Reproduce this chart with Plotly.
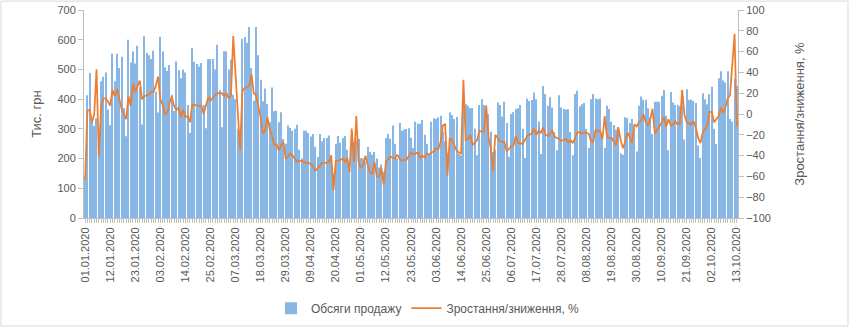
import pandas as pd
import plotly.graph_objects as go

# Categories: daily dates 01.01.2020 - 13.10.2020
dates = [d.strftime("%d.%m.%Y") for d in pd.date_range("2020-01-01", "2020-10-13", freq="D")]
label_every = 11
tick_labels = [d if i % label_every == 0 else "" for i, d in enumerate(dates)]

# Sales volume, thousand UAH (one row per week Mon..Sun)
sales = [
    140, 413, 488, 330, 310,
    335, 230, 460, 475, 490, 365, 312,
    553, 460, 553, 505, 543, 370, 275,
    600, 523, 560, 520, 580, 440, 315,
    612, 555, 548, 535, 563, 425, 355,
    610, 560, 507, 495, 515, 415, 360,
    527, 497, 470, 500, 490, 380, 287,
    572, 526, 518, 510, 522, 380, 302,
    535, 535, 535, 500, 583, 430, 305,
    561, 561, 500, 533, 415, 400, 300,
    230, 603, 609, 590, 643, 505, 395,
    643, 548, 465, 393, 436, 383, 322,
    439, 359, 361, 322, 356, 266, 250,
    311, 303, 294, 300, 314, 230, 200,
    294, 294, 286, 274, 283, 240, 205,
    283, 258, 269, 269, 278, 211, 150,
    250, 276, 253, 269, 276, 230, 191,
    289, 256, 261, 267, 202, 200, 190,
    239, 222, 214, 222, 200, 170, 180,
    156, 269, 283, 267, 311, 250, 200,
    320, 294, 298, 300, 302, 270, 236,
    324, 317, 317, 330, 280, 250, 213,
    324, 336, 333, 339, 344, 290, 258,
    220, 356, 347, 333, 340, 215, 211,
    394, 383, 378, 369, 370, 300, 211,
    380, 400, 380, 367, 350, 290, 222,
    230, 389, 380, 342, 391, 320, 206,
    350, 356, 367, 369, 380, 300, 202,
    402, 394, 397, 422, 400, 325, 215,
    444, 417, 378, 406, 372, 289, 228,
    413, 372, 367, 364, 367, 289, 211,
    417, 428, 376, 383, 387, 300, 236,
    400, 417, 402, 400, 402, 280, 236,
    378, 367, 324, 313, 298, 306, 217,
    213, 339, 336, 320, 333, 300, 224,
    378, 409, 398, 398, 369, 339, 283,
    391, 391, 391, 411, 431, 344, 228,
    424, 389, 380, 380, 376, 431, 264,
    433, 398, 398, 394, 387, 244, 202,
    420, 400, 383, 417, 442, 300, 249,
    470, 494, 463, 456, 494, 333, 325,
    469, 444,
]

# Growth / decline, %
growth = [
    -63, 3, 4, -8, 0,
    43, -41, 6, 15, 15, 12, 8,
    23, 17, 24, 14, 5, 0, -5,
    17, 8, 29, 21, 27, 32, 14,
    17, 18, 19, 21, 21, 27, 36,
    14, 9, 0, 1, 10, 17, 8,
    4, 6, -3, 4, -3, -2, -8,
    9, 9, 8, 8, 8, 0, 8,
    16, 13, 16, 18, 20, 20, 20,
    17, 20, 15, 18, 75, 35, 0,
    -35, 22, 25, 26, 27, 38, 20,
    18, 9, -3, -19, -16, -3, -15,
    -21, -30, -29, -35, -30, -27, -43,
    -41, -38, -40, -43, -46, -45, -45,
    -46, -47, -47, -48, -50, -55, -52,
    -50, -47, -47, -47, -46, -40, -73,
    -45, -45, -44, -43, -46, -42, -56,
    -14, -46, -2, -46, -52, -49, -40,
    -49, -56, -58, -46, -60, -60, -52,
    -68, -46, -43, -41, -42, -43, -39,
    -43, -45, -44, -44, -41, -37, -39,
    -38, -37, -42, -40, -42, -38, -39,
    -37, -36, -33, -34, -27, -11, -10,
    -59, -23, -25, -30, -35, -37, -38,
    33, -25, -24, -20, -30, -27, -25,
    -16, -17, -17, 8, -22, -33, -55,
    -20, -23, -26, -27, -27, -36, -33,
    -31, -30, -21, -28, -28, -29, -25,
    -21, -20, -19, -14, -20, -16, -18,
    -13, -20, -21, -18, -16, -22, -23,
    -24, -26, -25, -24, -27, -25, -28,
    -22, -18, -17, -19, -18, -18, -19,
    -26, -27, -15, -17, -16, -24, -2,
    -22, -23, -23, -26, -30, -13, -25,
    -33, -27, -18, -22, -28, -10, -12,
    -8, -6, 0, -8, -11, -5, 5,
    -19, -16, -12, -8, -3, -12, -5,
    -11, -10, -7, -10, -9, 23, -1,
    -8, -9, -10, -7, -13, -23, -28,
    -18, -15, -11, 2, 2, -8, -5,
    -2, 6, 1, 7, 15, 18, 45,
    77, -12,
]

n = min(len(dates), len(sales), len(growth))
dates, sales, growth, tick_labels = dates[:n], sales[:n], growth[:n], tick_labels[:n]

FONT = "Liberation Sans"
GREY = "#595959"
AXIS = "#BFBFBF"

fig = go.Figure()
fig.add_bar(
    x=dates, y=sales, name="Обсяги продажу",
    marker=dict(color="#88B7E5", line=dict(width=0)),
    yaxis="y",
)
fig.add_scatter(
    x=dates, y=growth, name="Зростання/зниження, %", mode="lines",
    line=dict(color="#ED7D31", width=1.75),
    yaxis="y2",
)

W, H = 850, 332
ml, mr, mt, mb = 84, 112, 10, 112
pw, ph = W - ml - mr, H - mt - mb

def px_x(px):
    return (px - ml) / pw

def px_y(py):
    return (H - mb - py) / ph

fig.update_layout(
    width=W, height=H,
    margin=dict(l=ml, r=mr, t=mt, b=mb, pad=0),
    paper_bgcolor="white", plot_bgcolor="white",
    font=dict(family=FONT, color=GREY, size=11),
    bargap=0.5,
    showlegend=True,
    legend=dict(
        orientation="h", x=0.526, xanchor="center", y=px_y(311), yanchor="middle",
        font=dict(size=12, color=GREY), itemwidth=30,
    ),
    xaxis=dict(
        type="category", tickmode="array", tickvals=dates, ticktext=tick_labels,
        tickangle=-90, ticks="outside", ticklen=4, tickcolor=AXIS, tickwidth=1,
        showline=True, linecolor=AXIS, linewidth=1, showgrid=False,
        tickfont=dict(size=11, color=GREY), automargin=False,
        range=[-0.5, n - 0.5],
    ),
    yaxis=dict(
        range=[0, 700], dtick=100, showgrid=False, zeroline=False,
        showline=True, linecolor=AXIS, ticks="outside", ticklen=5, tickcolor=AXIS,
        tickfont=dict(size=11, color=GREY), automargin=False,
        title=dict(text="Тис. грн", font=dict(size=13, color=GREY), standoff=12),
    ),
    yaxis2=dict(
        overlaying="y", side="right", anchor="x",
        range=[-100, 100], dtick=20, showgrid=False, zeroline=False,
        showline=True, linecolor=AXIS, ticks="outside", ticklen=5, tickcolor=AXIS,
        tickfont=dict(size=11, color=GREY), automargin=False,
        title=dict(text="Зростання/зниження, %", font=dict(size=13, color=GREY), standoff=24),
    ),
    shapes=[dict(
        type="rect", xref="paper", yref="paper",
        x0=px_x(1), x1=px_x(848), y0=px_y(329), y1=px_y(1),
        line=dict(color="#D9D9D9", width=1), fillcolor="rgba(0,0,0,0)", layer="below",
    )],
)

fig.write_html("out.html")
